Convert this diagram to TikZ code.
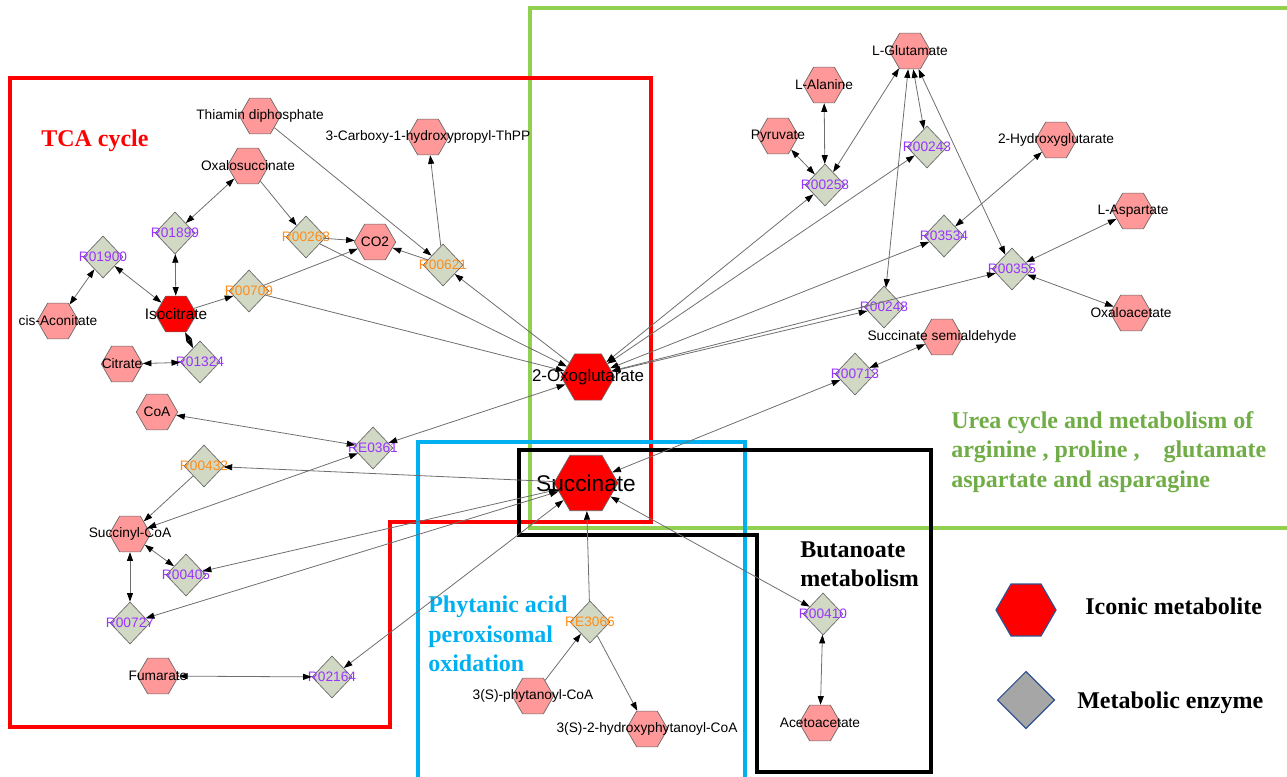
\documentclass[tikz,border=0pt]{standalone}
\usepackage{fontspec}
\setmainfont{Liberation Serif}
\setsansfont{Liberation Sans}
\usepackage{tikz}
\usetikzlibrary{shapes.geometric,arrows.meta}
\definecolor{kg-red}{HTML}{FF0000}
\definecolor{kg-pink}{HTML}{FF9999}
\definecolor{kg-enz}{HTML}{D1D9C5}
\definecolor{kg-purple}{HTML}{9933FF}
\definecolor{kg-orange}{HTML}{FF8C1A}
\definecolor{kg-green}{HTML}{92D050}
\definecolor{kg-greentext}{HTML}{70AD47}
\definecolor{kg-blue}{HTML}{00B0F0}
\definecolor{kg-edge}{HTML}{6E6E6E}
\definecolor{kg-legend}{HTML}{2F528F}
\definecolor{kg-gray}{HTML}{A6A6A6}

\begin{document}
\begin{tikzpicture}[x=0.75pt, y=-0.75pt,
    >={Triangle[length=6.5pt,width=4.5pt,color=black]},
    met/.style={regular polygon, regular polygon sides=6, minimum size=31pt,
        inner sep=0pt, draw=black!60, fill=kg-pink, line width=0.5pt},
    keymet/.style={met, fill=kg-red},
    enz/.style={diamond, minimum width=30pt, minimum height=31.5pt,
        inner sep=0pt, draw=black!60, fill=kg-enz, line width=0.5pt},
    link/.style={draw=kg-edge, line width=0.6pt},
    box/.style={line width=2.6pt},
    title/.style={font=\fontsize{18}{22}\selectfont\bfseries, align=left,
        anchor=west, inner sep=0pt},
    every label/.style={font=\fontsize{10.3}{12}\selectfont\sffamily, inner sep=0pt}]

    \useasboundingbox (0,0) rectangle (1287,777);

    % Pathway boxes
    \draw[box, kg-green] (1292,8) -- (530,8) -- (530,528) -- (1292,528);
    \draw[box, kg-red] (10,78) -- (651,78) -- (651,522) -- (390,522)
        -- (390,727) -- (10,727) -- cycle;
    \draw[box, kg-blue] (418,782) -- (418,442) -- (745,442) -- (745,782);
    \draw[box, black] (519,450) -- (931,450) -- (931,772) -- (757,772)
        -- (757,535) -- (519,535) -- cycle;

    % Pathway titles
    \node[title, text=kg-red] (tca) at (41,141) {TCA cycle};
    \node[title, text=kg-greentext] (urea) at (951,452)
        {Urea cycle and metabolism of\\arginine , proline ,\quad glutamate\\aspartate and asparagine};
    \node[title] (buta) at (800,564) {Butanoate\\metabolism};
    \node[title, text=kg-blue] (phyta) at (428,634) {Phytanic acid\\peroxisomal\\oxidation};

    % Metabolites
    \foreach \n/\x/\y/\t in {thiamin/260/116/Thiamin diphosphate,
        oxalo/248/166/Oxalosuccinate, carboxy/428/137/3-Carboxy-1-hydroxypropyl-ThPP,
        co2/375/242/CO2, cisacon/58/321/cis-Aconitate, citrate/122/364/Citrate,
        coa/157/412/CoA, succoa/130/534/Succinyl-CoA, fumarate/158/676/Fumarate,
        phyt/533/696/3(S)-phytanoyl-CoA, hphyt/647/729/3(S)-2-hydroxyphytanoyl-CoA,
        acetoac/820/723/Acetoacetate, lglu/910/51/L-Glutamate, lala/824/85/L-Alanine,
        pyr/778/136/Pyruvate, hglu/1056/140/2-Hydroxyglutarate,
        lasp/1133/211/L-Aspartate, oxaloac/1131/313/Oxaloacetate,
        ssa/942/337/Succinate semialdehyde} {
        \node[met, label={center:\t}] (\n) at (\x,\y) {};
    }

    % Iconic metabolites
    \node[keymet, label={[font=\fontsize{11.5}{13}\selectfont\sffamily]center:Isocitrate}]
        (iso) at (176,314) {};
    \node[keymet, minimum size=40pt,
        label={[font=\fontsize{12.7}{14}\selectfont\sffamily]center:2-Oxoglutarate}]
        (oxoglu) at (588,377) {};
    \node[keymet, minimum size=48pt,
        label={[font=\fontsize{17}{19}\selectfont\sffamily]center:Succinate}]
        (succ) at (586,483) {};

    % Enzymes
    \foreach \n/\x/\y/\t/\c in {r01899/175/233/R01899/kg-purple,
        r01900/103/257/R01900/kg-purple, r00268/306/237/R00268/kg-orange,
        r00709/249/291/R00709/kg-orange, r01324/200/362/R01324/kg-purple,
        r00621/443/265/R00621/kg-orange, re0361/373/448/RE0361/kg-purple,
        r00432/204/466/R00432/kg-orange, r00405/186/575/R00405/kg-purple,
        r00727/130/623/R00727/kg-purple, r02164/332/677/R02164/kg-purple,
        re3066/590/622/RE3066/kg-orange, r00410/823/614/R00410/kg-purple,
        r00713/855/374/R00713/kg-purple, r00258/825/185/R00258/kg-purple,
        r00243/927/147/R00243/kg-purple, r03534/944/236/R03534/kg-purple,
        r00355/1012/269/R00355/kg-purple, r00248/884/307/R00248/kg-purple} {
        \node[enz, label={[text=\c]center:\t}] (\n) at (\x,\y) {};
    }

    % Reversible reactions
    \foreach \a/\b in {oxalo/r01899, r01899/iso, r01900/iso, r01900/cisacon,
        iso/r01324, citrate/r01324, re0361/oxoglu, coa/re0361, re0361/succoa,
        succoa/r00405, r00405/succ, succoa/r00727, r00727/succ, fumarate/r02164,
        r02164/succ, succ/r00410, r00410/acetoac, r00713/succ, r00713/ssa,
        pyr/r00258, lala/r00258, lglu/r00258, oxoglu/r00258, oxoglu/r00243,
        lglu/r00243, lglu/r00248, lglu/r00355, hglu/r03534, oxoglu/r03534,
        lasp/r00355, r00355/oxaloac, oxoglu/r00355, oxoglu/r00248} {
        \draw[link, <->] (\a) -- (\b);
    }

    % One-way reactions
    \foreach \a/\b in {iso/r00709, oxalo/r00268, r00268/co2, r00268/oxoglu,
        r00709/co2, r00709/oxoglu, thiamin/r00621, r00621/co2, r00621/carboxy,
        oxoglu/r00621, r00432/succoa, succ/r00432, re3066/succ, phyt/re3066,
        re3066/hphyt} {
        \draw[link, ->] (\a) -- (\b);
    }

    % Legend
    \node[keymet, minimum size=45pt, draw=kg-legend, line width=0.9pt] (keyhex) at (1026,610) {};
    \node[enz, minimum width=43pt, minimum height=43pt, fill=kg-gray,
        draw=kg-legend, line width=0.9pt] (keydia) at (1026,700) {};
    \node[title] (keyhext) at (1085,606) {Iconic metabolite};
    \node[title] (keydiat) at (1077,703) {Metabolic enzyme};
\end{tikzpicture}
\end{document}
